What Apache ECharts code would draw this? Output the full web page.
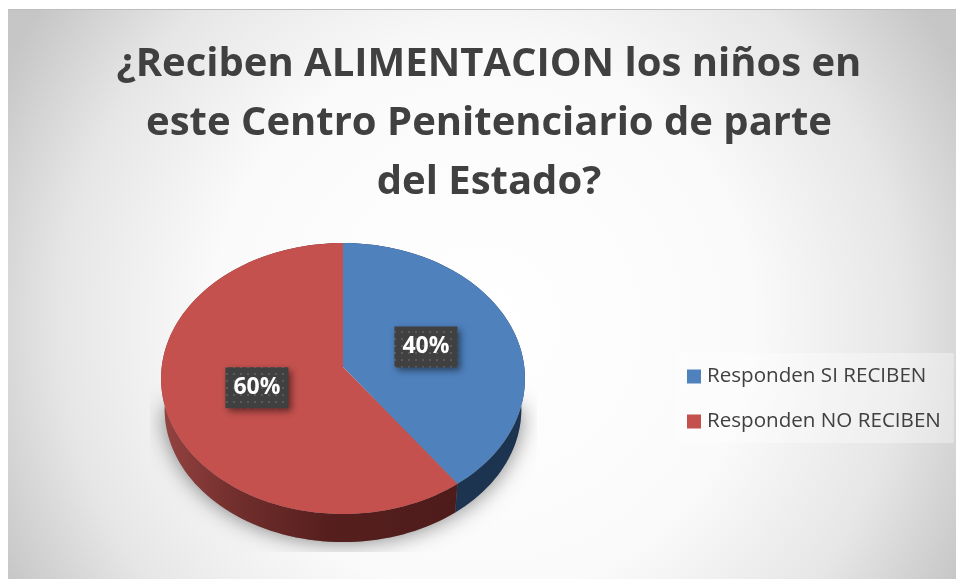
<!DOCTYPE html>
<html lang="es">
<head>
    <meta charset="UTF-8"/>
    <title>Alimentacion</title>
    <style>
        * {
            padding: 0;
            margin: 0;
        }

        body {
            background: #fff;
            overflow: hidden;
        }

        #chart {
            width: 956px;
            height: 579px;
        }
    </style>
    <script src="https://cdn.jsdelivr.net/npm/echarts@6/dist/echarts.min.js"></script>
</head>
<body>
<div id="chart"></div>
<script>
    const categories = ["Responden SI RECIBEN", "Responden NO RECIBEN"];
    const values = [40, 60];
    const titleLines = [
        "¿Reciben ALIMENTACION los niños en",
        "este Centro Penitenciario de parte",
        "del Estado?",
    ];

    const faceColors = ["#4f81bd", "#c4514e"];
    const fontName = "'Open Sans', sans-serif";

    // the tilted pie: apex of the slices, half sizes and perspective strength
    const pie = {cx: 343, cy: 367, rx: 181.3, ry: 134.5, k: 0.085};
    const wall = {scale: 0.98, drop: 31};

    const myChart = echarts.init(document.getElementById("chart"));
    const total = values.reduce((a, b) => a + b, 0);

    // r is 0..1 from the middle of the pie, angle is clockwise from the top
    function project(r, deg) {
        const a = (deg * Math.PI) / 180;
        const u = r * Math.sin(a);
        const v = r * Math.cos(a);
        const d = 1 + pie.k * v;
        return [pie.cx + (pie.rx * u) / d, pie.cy - (pie.ry * v) / d];
    }

    function arc(from, to) {
        const pts = [];
        const steps = Math.ceil((to - from) / 2);
        for (let i = 0; i <= steps; i++) {
            pts.push(project(1, from + ((to - from) * i) / steps));
        }
        return pts;
    }

    function wallPoint(p) {
        return [
            pie.cx + (p[0] - pie.cx) * wall.scale,
            pie.cy + (p[1] - pie.cy) * wall.scale + wall.drop,
        ];
    }

    function dotPattern() {
        const c = document.createElement("canvas");
        c.width = 7;
        c.height = 7;
        const g = c.getContext("2d");
        g.fillStyle = "#404040";
        g.fillRect(0, 0, 7, 7);
        g.fillStyle = "#5a5a5a";
        g.fillRect(2, 2, 2, 2);
        return c;
    }

    const pattern = dotPattern();

    function wallFill(i) {
        if (i === 0) {
            return "#1d3451";
        }
        return {
            type: "linear",
            global: true,
            x: 165,
            y: 0,
            x2: 460,
            y2: 0,
            colorStops: [
                {offset: 0, color: "#934240"},
                {offset: 0.25, color: "#702e2c"},
                {offset: 0.55, color: "#561f1e"},
                {offset: 1, color: "#4e1b1b"},
            ],
        };
    }

    function renderSlice(i) {
        return function (params, api) {
            const before = values.slice(0, i).reduce((a, b) => a + b, 0);
            const from = (before / total) * 360;
            const to = from + (api.value(0) / total) * 360;
            const top = arc(from, to);
            const bottom = top.map(wallPoint).reverse();
            const mid = project(0.49, (from + to) / 2);
            const hub = wallPoint([pie.cx, pie.cy]);
            const children = [
                {
                    // halo on the floor, only the front half so it fades out at the sides
                    type: "polygon",
                    z2: 0,
                    shape: {points: [hub].concat(bottom.filter((p) => p[1] >= hub[1] + 6))},
                    clipPath: {
                        type: "rect",
                        shape: {x: 150, y: 340, width: 387, height: 212},
                    },
                    style: {
                        fill: "#888",
                        shadowBlur: 22,
                        shadowColor: "rgba(0,0,0,0.5)",
                    },
                },
                {
                    type: "polygon",
                    z2: 1,
                    shape: {points: top.concat(bottom)},
                    style: {fill: wallFill(i)},
                },
                {
                    type: "polygon",
                    z2: 2,
                    shape: {points: [[pie.cx, pie.cy]].concat(top)},
                    style: {fill: faceColors[i]},
                },
                {
                    type: "rect",
                    z2: 3,
                    shape: {x: mid[0] - 32, y: mid[1] - 20.5, width: 63, height: 41},
                    style: {
                        fill: {image: pattern, repeat: "repeat"},
                        shadowBlur: 7,
                        shadowOffsetX: 3,
                        shadowOffsetY: 3,
                        shadowColor: "rgba(0,0,0,0.5)",
                    },
                },
                {
                    type: "text",
                    z2: 4,
                    style: {
                        x: mid[0] - 0.5,
                        y: mid[1],
                        text: api.value(0) + "%",
                        fill: "#fff",
                        font: "bold 23px " + fontName,
                        align: "center",
                        verticalAlign: "middle",
                    },
                },
            ];
            return {type: "group", children: children};
        };
    }

    const series = categories.map((name, i) => ({
        name: name,
        type: "custom",
        coordinateSystem: "none",
        silent: true,
        itemStyle: {color: faceColors[i]},
        data: [values[i]],
        renderItem: renderSlice(i),
    }));

    const options = {
        animation: false,
        title: {
            text: titleLines.join("\n"),
            left: 484,
            top: 30,
            textAlign: "center",
            textStyle: {
                fontFamily: fontName,
                fontWeight: "bold",
                fontSize: 40,
                lineHeight: 59,
                color: "#404040",
            },
        },
        legend: {
            orient: "vertical",
            left: 675,
            top: 353,
            padding: [13, 13, 11, 12],
            itemWidth: 14,
            itemHeight: 14,
            itemGap: 24,
            icon: "rect",
            backgroundColor: "rgba(255,255,255,0.35)",
            textStyle: {
                fontFamily: fontName,
                fontSize: 20.6,
                color: "#404040",
                padding: [0, 0, 0, 1],
            },
            data: categories,
        },
        graphic: [
            {
                type: "rect",
                z: -10,
                silent: true,
                shape: {x: 8, y: 9, width: 948, height: 570},
                style: {
                    fill: {
                        type: "radial",
                        x: 0.5,
                        y: 0.55,
                        r: 0.95,
                        colorStops: [
                            {offset: 0, color: "#ffffff"},
                            {offset: 0.5, color: "#fafafa"},
                            {offset: 0.78, color: "#e6e6e6"},
                            {offset: 1, color: "#c6c6c6"},
                        ],
                    },
                },
            },
            {
                type: "rect",
                z: -9,
                silent: true,
                shape: {x: 8, y: 9, width: 948, height: 1},
                style: {fill: "#bdbdbd"},
            },
        ],
        series: series,
    };
    myChart.setOption(options);
</script>
</body>
</html>
